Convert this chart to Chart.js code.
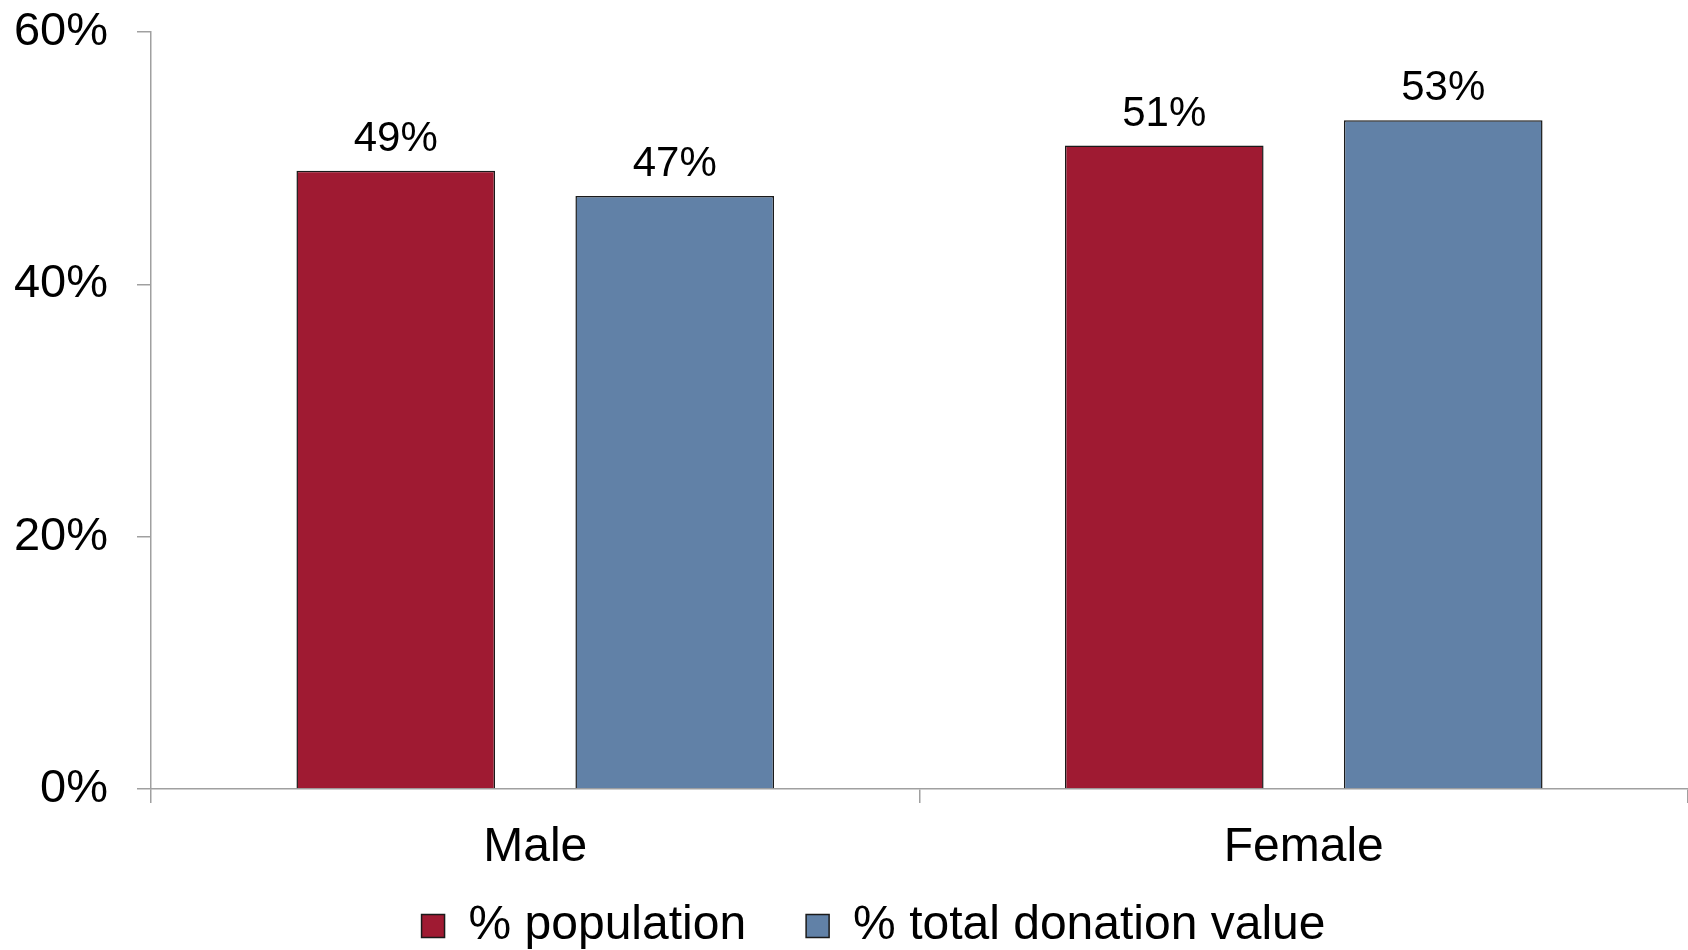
<!DOCTYPE html>
<html>
<head>
<meta charset="utf-8">
<script src="https://cdn.jsdelivr.net/npm/chart.js@4/dist/chart.umd.min.js"></script>
<style>
  html, body { margin: 0; padding: 0; background: #fff; }
  #wrap { width: 1688px; height: 950px; }
</style>
</head>
<body>
<div id="wrap"><canvas id="chart" width="1688" height="950"></canvas></div>
<script>
// data
const categories = ['Male', 'Female'];
const seriesNames = ['% population', '% total donation value'];
const populationShare = [49, 51];
const donationShare = [47, 53];
const yTicks = [0, 20, 40, 60];

const FONT = '"Liberation Sans", Arial, sans-serif';
const AXIS_GREY = '#a0a0a0';

// value labels above each bar
const barLabels = {
    id: 'barLabels',
    afterDatasetsDraw(chart) {
        const ctx = chart.ctx;
        ctx.save();
        ctx.font = '42px ' + FONT;
        ctx.fillStyle = '#000';
        ctx.textAlign = 'center';
        ctx.textBaseline = 'alphabetic';
        chart.data.datasets.forEach((ds, i) => {
            chart.getDatasetMeta(i).data.forEach((bar, j) => {
                ctx.fillText(ds.data[j] + '%', bar.x, bar.y - 20);
            });
        });
        ctx.restore();
    }
};

// the legend in the original sits a little right of centre
const legendNudge = {
    id: 'legendNudge',
    afterLayout(chart) {
        chart.legend.left += 21;
        chart.legend.right += 21;
    }
};

const ctx = document.getElementById('chart').getContext('2d');
new Chart(ctx, {
    type: 'bar',
    data: {
        labels: categories,
        datasets: [{
            label: seriesNames[0],
            data: populationShare,
            backgroundColor: 'rgb(159, 26, 50)',
            borderColor: '#1a1a1a',
            borderWidth: 1.5
        }, {
            label: seriesNames[1],
            data: donationShare,
            backgroundColor: 'rgb(97, 129, 167)',
            borderColor: '#1a1a1a',
            borderWidth: 1.5
        }]
    },
    options: {
        responsive: false,
        animation: false,
        categoryPercentage: 0.726,
        barPercentage: 0.712,
        // plot runs slightly past the right edge, as in the original
        layout: { padding: { top: 0, left: 12, right: -5, bottom: -10 } },
        scales: {
            y: {
                min: 0,
                max: 60,
                afterBuildTicks: (scale) => { scale.ticks = yTicks.map(v => ({ value: v })); },
                afterFit: (scale) => {
                    scale.width = 139;
                    scale.paddingTop = 32;
                    scale.paddingBottom = 0;
                },
                ticks: {
                    callback: (v) => v + '%',
                    color: '#000',
                    padding: 29,
                    font: { family: FONT, size: 47 }
                },
                grid: { drawOnChartArea: false, tickLength: 14, color: AXIS_GREY, lineWidth: 1.5 },
                border: { color: AXIS_GREY, width: 1.5 }
            },
            x: {
                afterFit: (scale) => { scale.height = 93; },
                ticks: {
                    color: '#000',
                    padding: 16,
                    font: { family: FONT, size: 48 }
                },
                grid: { drawOnChartArea: false, tickLength: 14, color: AXIS_GREY, lineWidth: 1.5 },
                border: { color: AXIS_GREY, width: 1.5 }
            }
        },
        plugins: {
            tooltip: { enabled: false },
            legend: {
                position: 'bottom',
                labels: {
                    color: '#000',
                    boxWidth: 23,
                    boxHeight: 23,
                    padding: 20,
                    font: { family: FONT, size: 48 },
                    generateLabels(chart) {
                        const items = Chart.defaults.plugins.legend.labels.generateLabels(chart);
                        items[0].text += '   ';
                        return items;
                    }
                }
            }
        }
    },
    plugins: [barLabels, legendNudge]
});
</script>
</body>
</html>
